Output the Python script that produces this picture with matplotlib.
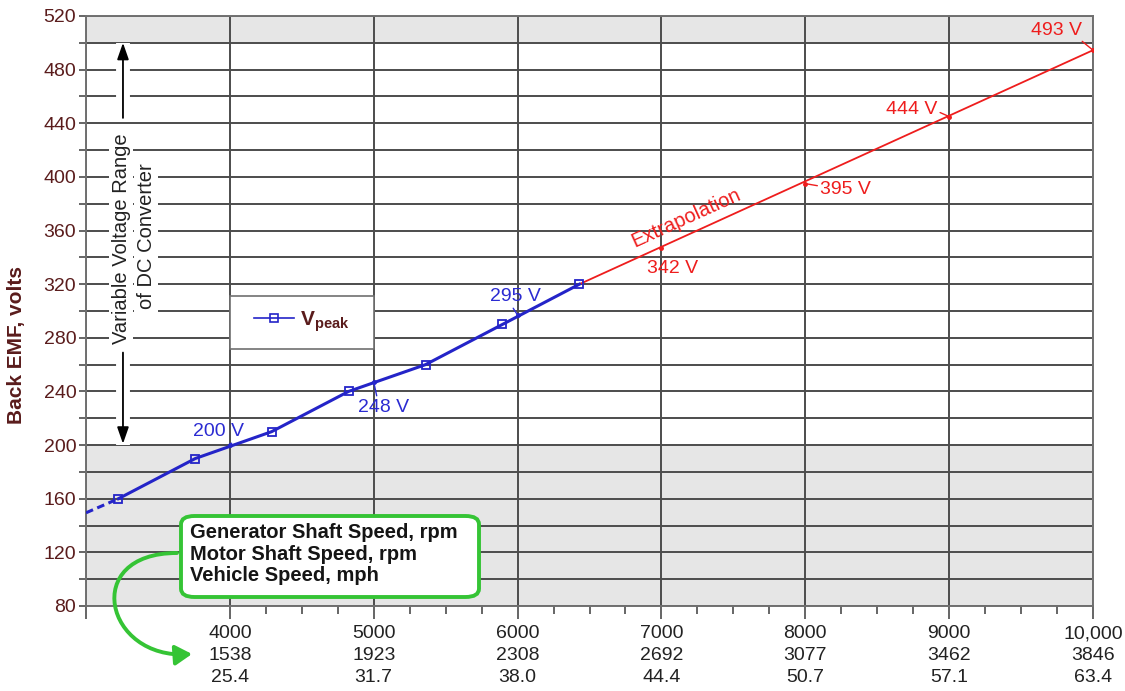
import matplotlib
matplotlib.use('Agg')
import matplotlib.pyplot as plt
from matplotlib.patches import Rectangle, FancyBboxPatch, FancyArrowPatch
from matplotlib.path import Path
from matplotlib.lines import Line2D

plt.rcParams['font.family'] = ['Liberation Sans', 'DejaVu Sans']
plt.rcParams['mathtext.fontset'] = 'custom'
plt.rcParams['mathtext.rm'] = 'Liberation Sans'
plt.rcParams['mathtext.bf'] = 'Liberation Sans:bold'

# ---- data ----
gen_rpm = [4000, 5000, 6000, 7000, 8000, 9000, 10000]
gen_lbl = ['4000', '5000', '6000', '7000', '8000', '9000', '10,000']
motor_rpm = ['1538', '1923', '2308', '2692', '3077', '3462', '3846']
vehicle_mph = ['25.4', '31.7', '38.0', '44.4', '50.7', '57.1', '63.4']

vpeak_x = [3225, 3760, 4290, 4825, 5360, 5895, 6430]
vpeak_y = [160, 190, 210, 240, 260, 290, 320]
lead_x = [3000, 3225]
lead_y = [149.5, 160]
extrap_x = [6430, 10000]
extrap_y = [320, 494.5]

blue_pt_x = [4000, 5000, 6000]
blue_pt_y = [200, 247, 297]
blue_lbl = ['200 V', '248 V', '295 V']
red_pt_x = [7000, 8000, 9000, 10000]
red_pt_y = [347, 395, 445, 494.5]
red_lbl = ['342 V', '395 V', '444 V', '493 V']

BLUE = '#2424c8'
BLUE_T = '#2b2bd2'
RED = '#ee1d1d'
GREEN = '#35c435'
MAROON = '#5a1c1c'
GRID = '#4c4c4c'
FS = 14

W, H = 1125, 691
fig = plt.figure(figsize=(W / 100, H / 100), dpi=100)
ax = fig.add_axes([86 / W, 1 - 606 / H, (1093 - 86) / W, (606 - 16) / H])
ax.set_xlim(3000, 10000)
ax.set_ylim(80, 520)

# bands
ax.axhspan(80, 200, color='#e6e6e6', zorder=0, lw=0)
ax.axhspan(500, 520, color='#e6e6e6', zorder=0, lw=0)

# ticks
ax.set_yticks(list(range(80, 521, 40)))
ax.set_yticks(list(range(100, 520, 40)), minor=True)
ax.tick_params(axis='y', which='both', length=5, width=1.2, color=GRID,
               labelsize=FS, labelcolor=MAROON, pad=2)
xt = [3000] + gen_rpm
xl = [''] + [f'{g}\n{m}\n{v}' for g, m, v in zip(gen_lbl, motor_rpm, vehicle_mph)]
ax.set_xticks(xt)
ax.set_xticklabels(xl, linespacing=1.38)
ax.set_xticks([x for x in range(4250, 10000, 250) if x % 1000], minor=True)
ax.tick_params(axis='x', which='major', length=9, width=1.2, color=GRID,
               labelsize=FS, labelcolor='#222222', pad=5)
ax.tick_params(axis='x', which='minor', length=6, width=1.2, color=GRID)

ax.grid(True, which='major', axis='both', color=GRID, lw=1.4, zorder=1)
ax.grid(True, which='minor', axis='y', color=GRID, lw=1.4, zorder=1)
ax.set_axisbelow(True)
for s in ax.spines.values():
    s.set_color('#707070')
    s.set_linewidth(1.4)

ax.set_ylabel('Back EMF, volts', fontsize=15, fontweight='bold', color=MAROON)
ax.yaxis.set_label_coords(-0.0596, 0.442)

# data lines
ax.plot(lead_x, lead_y, ls=(0, (2.5, 1.5)), color=BLUE, lw=2.2, zorder=4)
ax.plot(vpeak_x, vpeak_y, '-s', color=BLUE, lw=2.2, ms=5.5, mfc='none', mew=1.3, zorder=5)
ax.plot(extrap_x, extrap_y, '-', color=RED, lw=1.3, zorder=4)
ax.plot(blue_pt_x, blue_pt_y, 'o', color=BLUE, ms=2.5, zorder=6)
ax.plot(red_pt_x, red_pt_y, 'o', color=RED, ms=2.5, zorder=6)

# annotations
blue_off = [(-8, 9.5), (7, -18), (-1.5, 13)]
blue_rel = [(0.8, 0), (0.38, 1), (0.42, 0)]
for x, y, t, o, r in zip(blue_pt_x, blue_pt_y, blue_lbl, blue_off, blue_rel):
    ax.annotate(t, (x, y), xytext=o, textcoords='offset points', ha='center', va='center',
                fontsize=FS, color=BLUE_T, zorder=7,
                arrowprops=dict(arrowstyle='-', color=BLUE_T, lw=1, relpos=r,
                                shrinkA=0, shrinkB=0))
red_off = [(8, -15), (29, -4.3), (-27, 5), (-26, 14.5)]
red_rel = [None, (0, 0.7), (1, 0.4), (0.93, 0)]
for x, y, t, o, r in zip(red_pt_x, red_pt_y, red_lbl, red_off, red_rel):
    ap = None if r is None else dict(arrowstyle='-', color=RED, lw=1, relpos=r,
                                      shrinkA=0, shrinkB=0)
    ax.annotate(t, (x, y), xytext=o, textcoords='offset points', ha='center', va='center',
                fontsize=FS, color=RED, zorder=7, arrowprops=ap)

ax.text(7175, 369, 'Extrapolation', color=RED, fontsize=FS + 0.5, rotation=24.4,
        rotation_mode='anchor', ha='center', va='center', zorder=7)

# voltage range annotation
ax.plot([3257, 3257], [444, 500], color='white', lw=10, solid_capstyle='butt', zorder=2)
ax.plot([3257, 3257], [200, 269], color='white', lw=10, solid_capstyle='butt', zorder=2)
ax.annotate('', xy=(3257, 500), xytext=(3257, 444),
            arrowprops=dict(arrowstyle='-|>,head_length=1.0,head_width=0.35', color='black',
                            lw=1.3, shrinkA=0, shrinkB=0), zorder=6)
ax.annotate('', xy=(3257, 201), xytext=(3257, 269),
            arrowprops=dict(arrowstyle='-|>,head_length=1.0,head_width=0.35', color='black',
                            lw=1.3, shrinkA=0, shrinkB=0), zorder=6)
ax.text(3244, 354, 'Variable Voltage Range', rotation=90, ha='center', va='center',
        fontsize=FS + 0.5, color='#222222', zorder=6,
        bbox=dict(facecolor='white', edgecolor='none', pad=2))
ax.text(3418, 356, 'of DC Converter', rotation=90, ha='center', va='center',
        fontsize=FS + 0.5, color='#222222', zorder=6,
        bbox=dict(facecolor='white', edgecolor='none', pad=2))

# legend
ax.add_patch(Rectangle((4000, 272), 1000, 39, facecolor='white', edgecolor='#707070',
                       lw=1.2, zorder=6))
h = Line2D([], [], color=BLUE, lw=1.2, marker='s', ms=5.5, mfc='none', mew=1.2)
leg = ax.legend([h], [r'$\mathbf{V_{peak}}$'], loc='center', bbox_to_anchor=(0.2143, 0.482),
                frameon=False, fontsize=15, handlelength=1.9, handletextpad=0.3,
                labelcolor=MAROON)
leg.set_zorder(7)

# green callout box
box = FancyBboxPatch((181 / W, 1 - 597 / H), 298 / W, 81 / H,
                     boxstyle='round,pad=0,rounding_size=0.012', transform=fig.transFigure,
                     facecolor='white', edgecolor=GREEN, lw=2.8, zorder=8)
fig.patches.append(box)
fig.text(190 / W, 1 - 554 / H,
         'Generator Shaft Speed, rpm\nMotor Shaft Speed, rpm\nVehicle Speed, mph',
         ha='left', va='center', fontsize=14.5, fontweight='bold', color='#151515',
         linespacing=1.16, zorder=9)

pts = [(177, 553), (80, 553), (105, 660), (192, 654)]
path = Path([(x / W, 1 - y / H) for x, y in pts],
            [Path.MOVETO, Path.CURVE4, Path.CURVE4, Path.CURVE4])
arr = FancyArrowPatch(path=path, arrowstyle='-|>,head_length=10,head_width=6',
                      color=GREEN, lw=2.8, transform=fig.transFigure, zorder=8)
fig.patches.append(arr)

fig.savefig('out.png', dpi=100)
